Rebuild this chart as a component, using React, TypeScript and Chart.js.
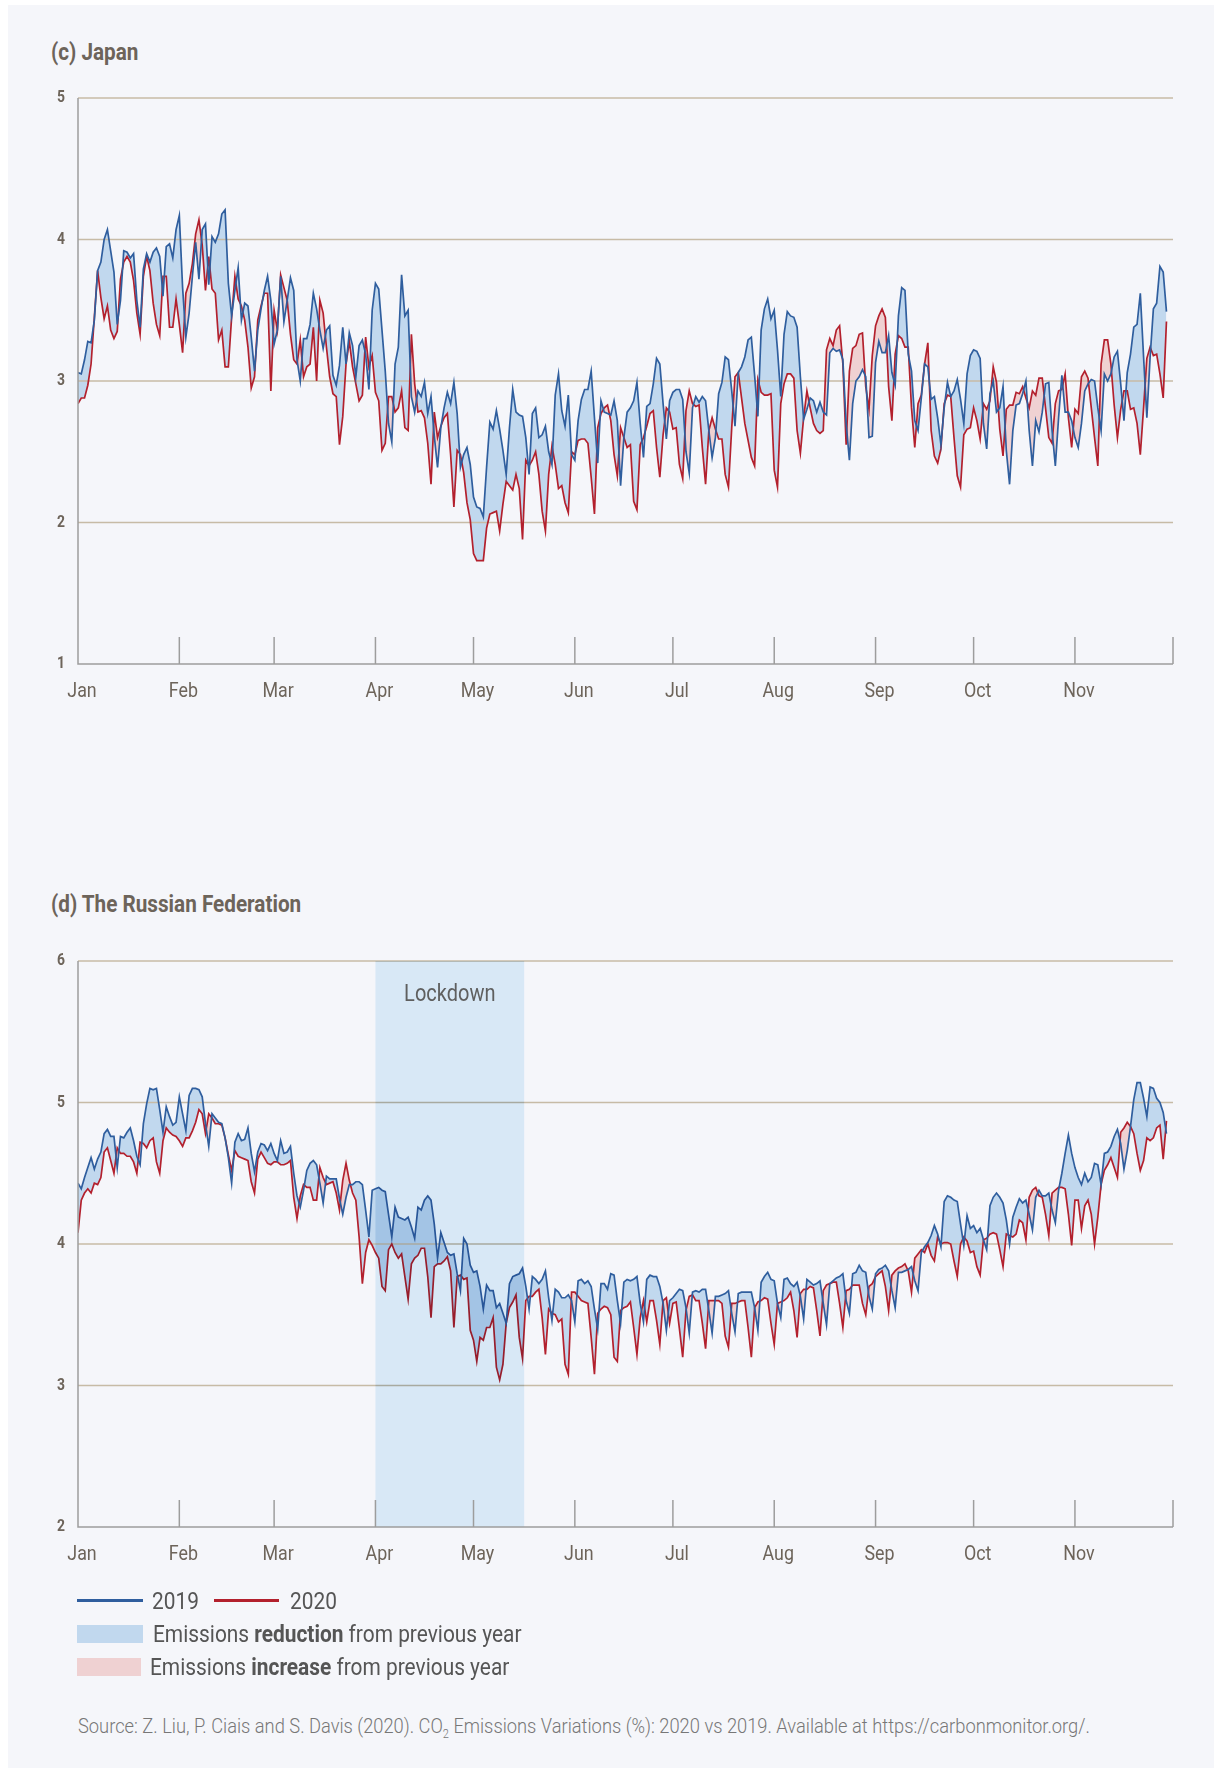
import React, { useEffect, useRef } from 'react';
import { Chart, registerables } from 'chart.js';

Chart.register(...registerables);

// ---------- data ----------
const MONTH_LABELS = ['Jan', 'Feb', 'Mar', 'Apr', 'May', 'Jun', 'Jul', 'Aug', 'Sep', 'Oct', 'Nov'];
const MONTH_START_DAYS = [0, 31, 60, 91, 121, 152, 182, 213, 244, 274, 305, 335];

const JAPAN_Y_TICKS = [1, 2, 3, 4, 5];
const RUSSIA_Y_TICKS = [2, 3, 4, 5, 6];
const LOCKDOWN_DAYS = [91, 136.5];

const JAPAN_2019 = [
  3.06, 3.05, 3.15, 3.28, 3.27, 3.43, 3.78, 3.84, 4.00, 4.07,
  3.92, 3.77, 3.40, 3.57, 3.92, 3.91, 3.87, 3.90, 3.57, 3.38,
  3.79, 3.90, 3.84, 3.91, 3.94, 3.88, 3.60, 3.95, 3.97, 3.87,
  4.07, 4.17, 3.66, 3.31, 3.48, 3.74, 3.98, 3.72, 4.07, 4.11,
  3.68, 4.02, 3.98, 4.04, 4.18, 4.21, 3.69, 3.46, 3.64, 3.80,
  3.43, 3.55, 3.53, 3.31, 3.07, 3.36, 3.51, 3.64, 3.74, 3.57,
  3.26, 3.36, 3.74, 3.42, 3.57, 3.73, 3.64, 3.15, 3.00, 3.30,
  3.30, 3.40, 3.62, 3.51, 3.36, 3.23, 3.36, 3.39, 3.04, 2.97,
  3.11, 3.38, 3.12, 3.34, 3.25, 3.03, 3.25, 3.29, 3.19, 2.94,
  3.50, 3.69, 3.65, 3.36, 3.07, 2.70, 2.57, 3.12, 3.24, 3.75,
  3.46, 3.50, 2.89, 2.78, 2.93, 2.89, 2.99, 2.77, 2.89, 2.61,
  2.39, 2.67, 2.81, 2.92, 2.84, 2.99, 2.77, 2.39, 2.48, 2.53,
  2.41, 2.18, 2.11, 2.10, 2.04, 2.39, 2.71, 2.66, 2.79, 2.66,
  2.51, 2.34, 2.67, 2.94, 2.78, 2.76, 2.75, 2.60, 2.34, 2.77,
  2.81, 2.60, 2.62, 2.68, 2.50, 2.41, 2.90, 3.05, 2.79, 2.68,
  2.90, 2.48, 2.44, 2.72, 2.87, 2.94, 2.94, 3.07, 2.74, 2.42,
  2.86, 2.78, 2.77, 2.76, 2.86, 2.72, 2.26, 2.60, 2.78, 2.81,
  2.86, 2.99, 2.70, 2.46, 2.82, 2.84, 2.98, 3.16, 3.12, 2.84,
  2.59, 2.86, 2.92, 2.94, 2.94, 2.87, 2.50, 2.35, 2.81, 2.89,
  2.85, 2.89, 2.86, 2.65, 2.46, 2.60, 2.91, 2.99, 3.17, 3.15,
  2.93, 2.68, 3.06, 3.10, 3.17, 3.29, 3.31, 3.04, 2.75, 3.36,
  3.51, 3.58, 3.44, 3.50, 3.22, 2.89, 3.33, 3.49, 3.46, 3.45,
  3.38, 3.03, 2.73, 2.80, 2.88, 2.86, 2.78, 2.85, 2.78, 2.76,
  3.20, 3.23, 3.21, 3.22, 3.15, 2.70, 2.44, 2.84, 3.00, 3.03,
  3.08, 3.03, 2.60, 2.61, 3.13, 3.28, 3.20, 3.20, 3.32, 3.06,
  2.97, 3.46, 3.66, 3.64, 3.19, 3.07, 2.72, 2.65, 2.88, 3.12,
  3.10, 2.87, 2.89, 2.74, 2.55, 2.81, 2.99, 2.89, 2.93, 3.01,
  2.87, 2.70, 3.05, 3.18, 3.22, 3.21, 3.16, 2.70, 2.52, 2.91,
  3.00, 2.78, 2.81, 2.96, 2.51, 2.27, 2.65, 2.83, 2.84, 2.91,
  3.00, 2.65, 2.40, 2.72, 2.64, 2.78, 2.98, 2.99, 2.65, 2.40,
  2.74, 3.04, 2.78, 2.78, 2.72, 2.60, 2.53, 2.70, 2.93, 2.98,
  3.01, 3.00, 2.81, 2.65, 3.05, 3.00, 3.05, 3.17, 3.21, 2.98,
  2.72, 3.06, 3.19, 3.38, 3.40, 3.62, 3.17, 2.74, 3.17, 3.51,
  3.55, 3.81, 3.77, 3.49,
];

const JAPAN_2020 = [
  2.84, 2.88, 2.88, 2.97, 3.12, 3.45, 3.78, 3.59, 3.44, 3.53,
  3.36, 3.30, 3.35, 3.72, 3.84, 3.88, 3.84, 3.71, 3.48, 3.33,
  3.74, 3.88, 3.78, 3.55, 3.40, 3.32, 3.74, 3.74, 3.38, 3.38,
  3.58, 3.40, 3.20, 3.62, 3.69, 3.83, 4.04, 4.14, 3.96, 3.64,
  3.88, 3.65, 3.62, 3.29, 3.36, 3.10, 3.10, 3.45, 3.74, 3.58,
  3.53, 3.43, 3.24, 2.95, 3.03, 3.43, 3.53, 3.62, 3.62, 2.93,
  3.50, 3.36, 3.75, 3.66, 3.57, 3.33, 3.15, 3.12, 3.29, 3.03,
  3.10, 3.12, 3.38, 3.00, 3.57, 3.48, 3.24, 3.03, 2.91, 2.89,
  2.55, 2.75, 3.12, 3.28, 3.10, 2.98, 2.86, 2.90, 3.31, 3.10,
  3.18, 2.92, 2.86, 2.51, 2.56, 2.89, 2.89, 2.78, 2.81, 2.93,
  2.67, 2.65, 3.33, 2.98, 2.78, 2.79, 2.74, 2.56, 2.27, 2.78,
  2.60, 2.68, 2.74, 2.77, 2.48, 2.11, 2.51, 2.48, 2.35, 2.14,
  2.02, 1.78, 1.73, 1.73, 1.73, 1.96, 2.06, 2.07, 2.08, 1.94,
  2.13, 2.29, 2.26, 2.23, 2.34, 2.24, 1.88, 2.44, 2.40, 2.44,
  2.50, 2.34, 2.08, 1.94, 2.34, 2.54, 2.41, 2.24, 2.26, 2.14,
  2.07, 2.50, 2.48, 2.58, 2.59, 2.59, 2.56, 2.32, 2.06, 2.67,
  2.77, 2.81, 2.83, 2.72, 2.48, 2.33, 2.67, 2.60, 2.53, 2.55,
  2.15, 2.09, 2.55, 2.60, 2.68, 2.77, 2.79, 2.53, 2.32, 2.62,
  2.81, 2.78, 2.66, 2.67, 2.41, 2.31, 2.79, 2.93, 2.84, 2.82,
  2.83, 2.53, 2.27, 2.65, 2.74, 2.66, 2.59, 2.59, 2.34, 2.25,
  2.67, 3.03, 3.06, 2.88, 2.70, 2.58, 2.46, 2.40, 3.01, 2.92,
  2.90, 2.90, 2.91, 2.37, 2.25, 2.84, 2.98, 3.05, 3.05, 3.02,
  2.65, 2.49, 2.74, 2.93, 2.81, 2.70, 2.65, 2.63, 2.65, 3.22,
  3.30, 3.25, 3.36, 3.39, 3.12, 2.55, 3.07, 3.23, 3.25, 3.33,
  3.34, 2.96, 2.80, 3.18, 3.39, 3.46, 3.51, 3.45, 2.96, 2.72,
  3.19, 3.32, 3.30, 3.24, 3.24, 2.81, 2.53, 2.84, 2.90, 3.12,
  3.27, 2.65, 2.47, 2.42, 2.52, 2.84, 2.90, 2.89, 2.60, 2.33,
  2.25, 2.62, 2.66, 2.67, 2.81, 2.72, 2.59, 2.84, 2.80, 2.86,
  3.10, 2.99, 2.66, 2.47, 2.80, 2.83, 2.83, 2.92, 2.91, 2.96,
  2.88, 2.81, 2.93, 2.90, 3.02, 3.02, 2.81, 2.60, 2.56, 2.84,
  2.93, 2.94, 3.05, 2.74, 2.53, 2.80, 2.77, 3.03, 3.07, 3.02,
  2.81, 2.60, 2.40, 3.12, 3.29, 3.29, 3.12, 2.83, 2.60, 2.80,
  2.93, 2.93, 2.80, 2.81, 2.70, 2.48, 2.81, 3.16, 3.24, 3.18,
  3.19, 3.05, 2.88, 3.42,
];

const RUSSIA_2019 = [
  4.43, 4.39, 4.47, 4.54, 4.61, 4.53, 4.60, 4.65, 4.78, 4.81,
  4.76, 4.76, 4.54, 4.76, 4.75, 4.79, 4.82, 4.73, 4.62, 4.56,
  4.85, 4.99, 5.10, 5.09, 5.10, 4.95, 4.79, 4.97, 4.90, 4.84,
  4.86, 5.04, 4.92, 4.80, 5.05, 5.10, 5.10, 5.09, 5.04, 4.85,
  4.69, 4.92, 4.89, 4.86, 4.85, 4.75, 4.61, 4.43, 4.72, 4.78,
  4.73, 4.74, 4.82, 4.64, 4.51, 4.65, 4.71, 4.70, 4.66, 4.71,
  4.64, 4.59, 4.73, 4.64, 4.65, 4.69, 4.50, 4.34, 4.26, 4.38,
  4.52, 4.57, 4.59, 4.56, 4.43, 4.29, 4.48, 4.46, 4.46, 4.46,
  4.32, 4.21, 4.33, 4.42, 4.42, 4.44, 4.44, 4.42, 4.24, 4.05,
  4.38, 4.39, 4.40, 4.38, 4.37, 4.21, 4.05, 4.26, 4.19, 4.18,
  4.17, 4.19, 4.12, 4.04, 4.26, 4.24, 4.31, 4.34, 4.31, 4.14,
  3.90, 4.08, 4.01, 3.94, 3.92, 3.93, 3.79, 3.67, 4.04, 4.00,
  3.85, 3.80, 3.81, 3.70, 3.54, 3.71, 3.67, 3.67, 3.55, 3.58,
  3.51, 3.44, 3.72, 3.77, 3.78, 3.79, 3.83, 3.70, 3.54, 3.77,
  3.75, 3.72, 3.75, 3.81, 3.62, 3.46, 3.68, 3.66, 3.62, 3.62,
  3.64, 3.60, 3.45, 3.74, 3.75, 3.72, 3.74, 3.70, 3.54, 3.40,
  3.72, 3.72, 3.68, 3.79, 3.78, 3.60, 3.44, 3.73, 3.75, 3.74,
  3.75, 3.77, 3.58, 3.45, 3.75, 3.78, 3.77, 3.77, 3.70, 3.58,
  3.39, 3.60, 3.62, 3.65, 3.68, 3.67, 3.55, 3.37, 3.66, 3.67,
  3.66, 3.68, 3.68, 3.53, 3.37, 3.63, 3.63, 3.64, 3.65, 3.67,
  3.51, 3.38, 3.65, 3.66, 3.66, 3.66, 3.66, 3.55, 3.39, 3.73,
  3.77, 3.80, 3.75, 3.74, 3.58, 3.48, 3.75, 3.76, 3.72, 3.70,
  3.73, 3.63, 3.47, 3.75, 3.73, 3.71, 3.72, 3.74, 3.58, 3.43,
  3.72, 3.74, 3.76, 3.77, 3.79, 3.60, 3.51, 3.79, 3.80, 3.85,
  3.81, 3.80, 3.63, 3.54, 3.79, 3.82, 3.83, 3.85, 3.81, 3.67,
  3.55, 3.80, 3.80, 3.81, 3.82, 3.84, 3.74, 3.67, 3.94, 3.98,
  4.01, 4.06, 4.13, 4.07, 3.98, 4.30, 4.34, 4.33, 4.31, 4.30,
  4.14, 3.99, 4.20, 4.11, 4.13, 4.08, 4.11, 4.03, 3.96, 4.27,
  4.33, 4.36, 4.33, 4.29, 4.17, 4.00, 4.19, 4.26, 4.32, 4.29,
  4.31, 4.21, 4.10, 4.33, 4.38, 4.34, 4.34, 4.36, 4.24, 4.15,
  4.38, 4.50, 4.64, 4.77, 4.64, 4.54, 4.47, 4.42, 4.50, 4.44,
  4.47, 4.57, 4.56, 4.42, 4.64, 4.65, 4.69, 4.76, 4.81, 4.71,
  4.53, 4.66, 4.83, 5.02, 5.14, 5.14, 5.03, 4.90, 5.11, 5.10,
  5.03, 5.00, 4.93, 4.78,
];

const RUSSIA_2020 = [
  4.08, 4.31, 4.36, 4.39, 4.36, 4.43, 4.42, 4.47, 4.65, 4.68,
  4.59, 4.50, 4.68, 4.64, 4.64, 4.62, 4.62, 4.58, 4.50, 4.72,
  4.71, 4.68, 4.73, 4.75, 4.58, 4.50, 4.73, 4.82, 4.79, 4.77,
  4.76, 4.73, 4.69, 4.75, 4.75, 4.80, 4.86, 4.95, 4.92, 4.78,
  4.92, 4.89, 4.85, 4.85, 4.84, 4.75, 4.63, 4.52, 4.66, 4.62,
  4.61, 4.60, 4.59, 4.44, 4.36, 4.60, 4.65, 4.61, 4.57, 4.56,
  4.58, 4.58, 4.56, 4.56, 4.57, 4.59, 4.33, 4.18, 4.34, 4.42,
  4.40, 4.40, 4.31, 4.31, 4.54, 4.47, 4.42, 4.43, 4.44, 4.36,
  4.24, 4.45, 4.57, 4.45, 4.36, 4.31, 4.05, 3.72, 3.94, 4.03,
  3.99, 3.94, 3.90, 3.70, 3.67, 3.96, 4.00, 3.94, 3.90, 3.93,
  3.77, 3.61, 3.86, 3.90, 3.92, 3.97, 3.97, 3.77, 3.48, 3.84,
  3.86, 3.86, 3.88, 3.91, 3.81, 3.41, 3.77, 3.78, 3.75, 3.76,
  3.39, 3.32, 3.17, 3.34, 3.32, 3.41, 3.41, 3.48, 3.13, 3.04,
  3.15, 3.44, 3.55, 3.59, 3.64, 3.34, 3.19, 3.60, 3.63, 3.63,
  3.66, 3.68, 3.48, 3.22, 3.54, 3.51, 3.50, 3.45, 3.47, 3.15,
  3.08, 3.66, 3.66, 3.63, 3.60, 3.59, 3.58, 3.34, 3.08, 3.51,
  3.54, 3.56, 3.55, 3.50, 3.20, 3.17, 3.53, 3.55, 3.56, 3.59,
  3.41, 3.22, 3.48, 3.60, 3.45, 3.60, 3.60, 3.46, 3.29, 3.60,
  3.62, 3.44, 3.58, 3.59, 3.40, 3.20, 3.53, 3.63, 3.64, 3.60,
  3.60, 3.44, 3.26, 3.60, 3.60, 3.60, 3.60, 3.58, 3.35, 3.27,
  3.58, 3.58, 3.59, 3.60, 3.60, 3.41, 3.20, 3.55, 3.59, 3.60,
  3.62, 3.61, 3.44, 3.29, 3.58, 3.59, 3.60, 3.62, 3.66, 3.53,
  3.34, 3.65, 3.68, 3.68, 3.70, 3.69, 3.53, 3.35, 3.67, 3.71,
  3.72, 3.73, 3.73, 3.58, 3.41, 3.67, 3.68, 3.71, 3.71, 3.71,
  3.58, 3.50, 3.70, 3.72, 3.77, 3.79, 3.81, 3.70, 3.53, 3.78,
  3.81, 3.83, 3.84, 3.86, 3.81, 3.66, 3.90, 3.93, 3.96, 3.94,
  4.00, 3.92, 3.88, 4.05, 4.00, 4.01, 4.01, 4.00, 3.88, 3.77,
  4.00, 4.05, 4.02, 3.94, 3.95, 3.84, 3.78, 4.03, 4.04, 4.07,
  4.08, 4.07, 3.96, 3.84, 4.07, 4.06, 4.05, 4.07, 4.17, 4.15,
  4.03, 4.33, 4.38, 4.40, 4.34, 4.33, 4.21, 4.06, 4.36, 4.38,
  4.40, 4.40, 4.39, 4.21, 3.99, 4.31, 4.31, 4.11, 4.27, 4.31,
  4.21, 4.00, 4.19, 4.42, 4.52, 4.56, 4.61, 4.54, 4.47, 4.79,
  4.82, 4.86, 4.83, 4.78, 4.64, 4.52, 4.59, 4.75, 4.73, 4.75,
  4.82, 4.84, 4.60, 4.87,
];

// ---------- style ----------
const FONT = 'Roboto, "Noto Sans", sans-serif';
const SX = 0.87;
const PANEL_BG = '#f5f6fa';
const BLUE = '#2f5e9e';
const RED = '#b3202d';
const BLUE_FILL = '#c1d8ee';
const RED_FILL = '#efd1d2';
const BAND_MULTIPLY = 'rgb(216,232,246)';
const GRID = '#c7bba6';
const AXIS = '#9d9d9d';
const LABEL = '#6d645a';

function drawText(ctx: CanvasRenderingContext2D, text: string, x: number, y: number, font: string, color: string, align: 'left' | 'center' | 'right', sx: number = SX) {
  ctx.save();
  ctx.font = font;
  ctx.fillStyle = color;
  ctx.textBaseline = 'middle';
  ctx.textAlign = 'left';
  const w = ctx.measureText(text).width * sx;
  const left = align === 'center' ? x - w / 2 : align === 'right' ? x - w : x;
  ctx.translate(left, y);
  ctx.scale(sx, 1);
  ctx.fillText(text, 0, 0);
  ctx.restore();
}

function makeAxesPlugin(yTicks: number[], lockdown: number[] | null) {
  return {
    id: 'customAxes',
    beforeDatasetsDraw(chart: any) {
      const { ctx, chartArea } = chart;
      const y = chart.scales.y;
      ctx.save();
      ctx.strokeStyle = GRID;
      ctx.lineWidth = 1.3;
      yTicks.slice(1).forEach((t) => {
        const py = y.getPixelForValue(t);
        ctx.beginPath();
        ctx.moveTo(chartArea.left, py);
        ctx.lineTo(chartArea.right, py);
        ctx.stroke();
      });
      ctx.restore();
    },
    afterDatasetsDraw(chart: any) {
      const { ctx, chartArea } = chart;
      const x = chart.scales.x;
      const y = chart.scales.y;
      if (lockdown) {
        const x0 = x.getPixelForValue(lockdown[0]);
        const x1 = x.getPixelForValue(lockdown[1]);
        ctx.save();
        ctx.globalCompositeOperation = 'multiply';
        ctx.fillStyle = BAND_MULTIPLY;
        ctx.fillRect(x0, chartArea.top, x1 - x0, chartArea.bottom - chartArea.top);
        ctx.restore();
        drawText(ctx, 'Lockdown', (x0 + x1) / 2, chartArea.top + 34, `400 23px ${FONT}`, '#5f5f5f', 'center');
      }
      ctx.save();
      ctx.strokeStyle = AXIS;
      ctx.lineWidth = 1.5;
      ctx.beginPath();
      ctx.moveTo(chartArea.left, chartArea.top);
      ctx.lineTo(chartArea.left, chartArea.bottom);
      ctx.lineTo(chartArea.right, chartArea.bottom);
      ctx.stroke();
      MONTH_START_DAYS.slice(1).forEach((d) => {
        const px = x.getPixelForValue(d);
        ctx.beginPath();
        ctx.moveTo(px, chartArea.bottom);
        ctx.lineTo(px, chartArea.bottom - 27);
        ctx.stroke();
      });
      ctx.restore();
      MONTH_LABELS.forEach((m, i) => {
        const px = x.getPixelForValue(MONTH_START_DAYS[i]) + 4;
        drawText(ctx, m, px, chartArea.bottom + 28, `400 21px ${FONT}`, LABEL, 'center', 0.85);
      });
      yTicks.forEach((t) => {
        drawText(ctx, String(t), chartArea.left - 17, y.getPixelForValue(t), `700 16px ${FONT}`, LABEL, 'center');
      });
    },
  };
}

type ChartProps = {
  top: number;
  height: number;
  padTop: number;
  padBottom: number;
  d2019: number[];
  d2020: number[];
  yTicks: number[];
  lockdown: number[] | null;
};

function EmissionsChart({ top, height, padTop, padBottom, d2019, d2020, yTicks, lockdown }: ChartProps) {
  const ref = useRef<HTMLCanvasElement>(null);
  useEffect(() => {
    const chart = new Chart(ref.current as HTMLCanvasElement, {
      type: 'line',
      data: {
        datasets: [
          {
            label: '2019',
            data: d2019.map((v, i) => ({ x: i, y: v })),
            borderColor: BLUE,
            borderWidth: 1.7,
            pointRadius: 0,
            tension: 0,
            fill: { target: 1, above: BLUE_FILL, below: RED_FILL },
          },
          {
            label: '2020',
            data: d2020.map((v, i) => ({ x: i, y: v })),
            borderColor: RED,
            borderWidth: 1.7,
            pointRadius: 0,
            tension: 0,
            fill: false,
          },
        ],
      },
      options: {
        responsive: false,
        animation: false,
        devicePixelRatio: 1,
        events: [],
        layout: { padding: { left: 78, right: 41, top: padTop, bottom: padBottom } },
        scales: {
          x: { type: 'linear', min: 0, max: 335, display: false },
          y: { min: yTicks[0], max: yTicks[yTicks.length - 1], display: false },
        },
        plugins: {
          legend: { display: false },
          tooltip: { enabled: false },
          filler: { drawTime: 'beforeDatasetsDraw' },
        } as any,
      },
      plugins: [makeAxesPlugin(yTicks, lockdown)],
    } as any);
    return () => chart.destroy();
  }, []);
  return (
    <canvas
      ref={ref}
      width={1214}
      height={height}
      style={{ position: 'absolute', left: 0, top, width: 1214, height }}
    />
  );
}

function Txt({ x, y, size, weight = 400, color, sx = SX, children }: any) {
  return (
    <div
      style={{
        position: 'absolute',
        left: x,
        top: y - size * 0.6,
        fontFamily: FONT,
        fontSize: size,
        fontWeight: weight,
        color,
        lineHeight: `${size * 1.2}px`,
        whiteSpace: 'nowrap',
        transform: `scaleX(${sx})`,
        transformOrigin: 'left center',
      }}
    >
      {children}
    </div>
  );
}

export default function App() {
  return (
    <div style={{ position: 'absolute', left: 0, top: 0, width: 1214, height: 1768, background: '#ffffff', overflow: 'hidden' }}>
      <div style={{ position: 'absolute', left: 8, top: 5, width: 1206, height: 1763, background: PANEL_BG }} />
      <Txt x={51} y={53} size={23} weight={700} color={LABEL} sx={0.9}>(c) Japan</Txt>
      <EmissionsChart top={0} height={740} padTop={98} padBottom={76} d2019={JAPAN_2019} d2020={JAPAN_2020} yTicks={JAPAN_Y_TICKS} lockdown={null} />
      <Txt x={51} y={905} size={23} weight={700} color={LABEL} sx={0.9}>(d) The Russian Federation</Txt>
      <EmissionsChart top={870} height={720} padTop={91} padBottom={63} d2019={RUSSIA_2019} d2020={RUSSIA_2020} yTicks={RUSSIA_Y_TICKS} lockdown={LOCKDOWN_DAYS} />

      <div style={{ position: 'absolute', left: 77, top: 1599, width: 66, height: 3, background: BLUE }} />
      <Txt x={152} y={1601} size={24} color="#555555">2019</Txt>
      <div style={{ position: 'absolute', left: 214, top: 1599, width: 65, height: 3, background: RED }} />
      <Txt x={290} y={1601} size={24} color="#555555">2020</Txt>

      <div style={{ position: 'absolute', left: 77, top: 1625, width: 66, height: 18, background: BLUE_FILL }} />
      <Txt x={153} y={1634} size={24} color="#555555">
        Emissions <b>reduction</b> from previous year
      </Txt>
      <div style={{ position: 'absolute', left: 77, top: 1658, width: 64, height: 18, background: RED_FILL }} />
      <Txt x={150} y={1667} size={24} color="#555555">
        Emissions <b>increase</b> from previous year
      </Txt>

      <Txt x={78} y={1726} size={20} weight={300} color="#777777" sx={0.915}>
        Source: Z. Liu, P. Ciais and S. Davis (2020). CO<span style={{ fontSize: 12, verticalAlign: -5 }}>2</span> Emissions Variations (%): 2020 vs 2019. Available at https://carbonmonitor.org/.
      </Txt>
    </div>
  );
}
